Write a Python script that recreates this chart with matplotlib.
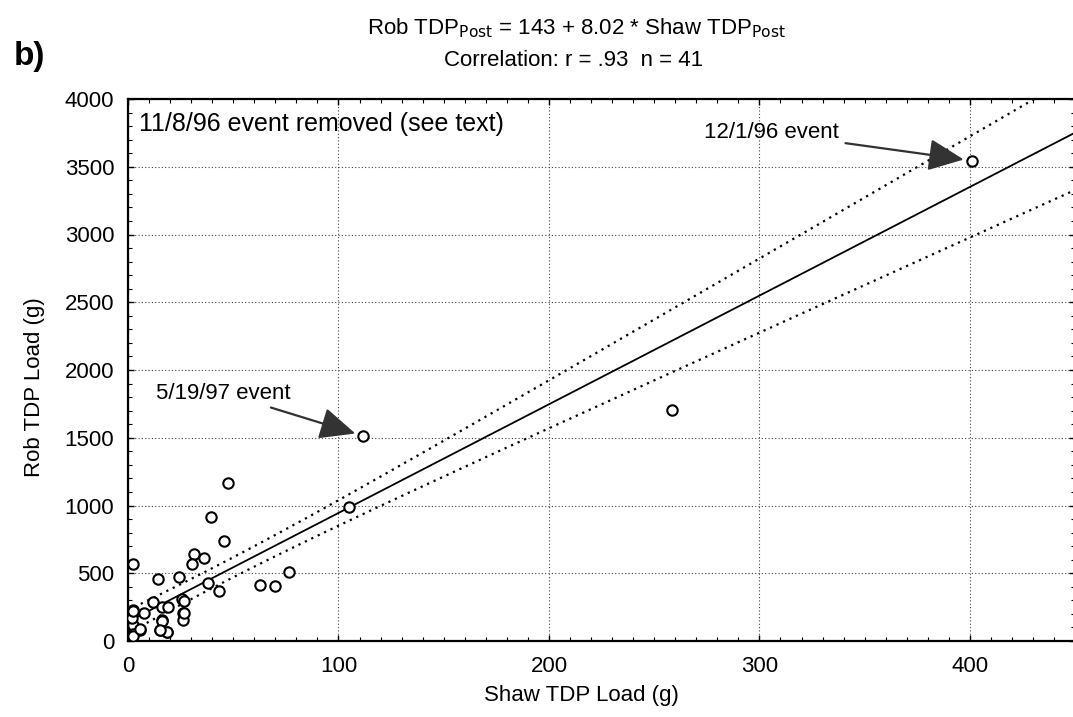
import numpy as np
import matplotlib
matplotlib.use("Agg")
import matplotlib.pyplot as plt
from matplotlib.ticker import MultipleLocator

plt.rcParams['font.family'] = ['Liberation Sans', 'DejaVu Sans']

# Data (Shaw TDP load, Rob TDP load), grams
shaw = [47.3, 39.4, 45.7, 31.4, 36.2, 30.3, 2.2, 14.4, 24.4, 37.8, 43.3, 62.5,
        69.7, 76.3, 12.1, 16.0, 19.2, 25.6, 26.7, 26.3, 26.3, 16.3, 15.2, 18.4,
        2.2, 7.6, 2.5, 5.7, 2.2, 111.8, 258.6, 104.8, 401.0,
        2.0, 2.4, 16.2, 18.6, 5.5, 2.3, 26.4, 15.4]
rob = [1165, 913, 738, 640, 610, 568, 566, 460, 470, 428, 371, 411,
       406, 507, 290, 250, 253, 312, 298, 208, 158, 152, 81, 66,
       226, 204, 121, 84, 55, 1513, 1705, 989, 3545,
       170, 40, 148, 70, 88, 225, 210, 84]

intercept = 143
slope = 8.02
t_crit = 2.0227  # df = 39

x = np.array(shaw, dtype=float)
y = np.array(rob, dtype=float)
n = len(x)
resid = y - (intercept + slope * x)
s = np.sqrt(np.sum(resid**2) / (n - 2))
xbar = x.mean()
sxx = np.sum((x - xbar)**2)

xx = np.linspace(0, 450, 400)
yy = intercept + slope * xx
hw = t_crit * s * np.sqrt(1.0 / n + (xx - xbar)**2 / sxx)

fig = plt.figure(figsize=(10.73, 7.17), dpi=100)
ax = fig.add_axes([128/1073, 1 - 641/717, 1 - 128/1073 + 0.002, (641 - 99)/717])

ax.plot(xx, yy, color='black', lw=1.3, zorder=3)
ax.plot(xx, yy + hw, color='black', lw=1.6, ls=(0, (1, 2.2)), zorder=3)
ax.plot(xx, yy - hw, color='black', lw=1.6, ls=(0, (1, 2.2)), zorder=3)
ax.scatter(x, y, s=56, facecolors='white', edgecolors='black', linewidths=1.5, zorder=4)

ax.set_xlim(0, 450)
ax.set_ylim(0, 4000)
ax.xaxis.set_major_locator(MultipleLocator(100))
ax.xaxis.set_minor_locator(MultipleLocator(10))
ax.yaxis.set_major_locator(MultipleLocator(500))
ax.yaxis.set_minor_locator(MultipleLocator(100))
ax.tick_params(which='both', direction='in', top=True, right=True, labelsize=16)
ax.tick_params(axis='x', pad=11)
ax.tick_params(axis='y', pad=10)
ax.tick_params(which='major', length=4, width=1)
ax.tick_params(which='minor', length=3, width=0.8)
ax.grid(True, which='major', color='#444444', ls=(0, (1, 2)), lw=0.8)
for sp in ax.spines.values():
    sp.set_linewidth(1.6)

ax.set_xlabel('Shaw TDP Load (g)', fontsize=16)
ax.xaxis.set_label_coords((580 - 128) / 945, -(685 - 641) / 542)
ax.set_ylabel('Rob TDP Load (g)', fontsize=16)
ax.yaxis.set_label_coords(-(128 - 45) / 945, (641 - 387) / 542)

ax.text(5.0, 3815, '11/8/96 event removed (see text)',
        fontsize=18, va='center', ha='left')

arrow = dict(arrowstyle='-|>,head_length=1.0,head_width=0.45', color='#333333',
             lw=1.6, mutation_scale=22, shrinkA=3, shrinkB=6)
ax.annotate('12/1/96 event', xy=(401.0, 3545), xytext=(337.6, 3750),
            fontsize=16, ha='right', va='center', arrowprops=arrow)
ax.annotate('5/19/97 event', xy=(111.8, 1513), xytext=(77.5, 1830),
            fontsize=16, ha='right', va='center', arrowprops=arrow)

fig.text(576/1073, 1 - 28/717, 'Rob TDP$_{\\mathrm{Post}}$ = 143 + 8.02 * Shaw TDP$_{\\mathrm{Post}}$',
         ha='center', va='center', fontsize=16)
fig.text(574/1073, 1 - 61/717, 'Correlation: r = .93  n = 41', ha='center', va='center', fontsize=16)
fig.text(14/1073, 1 - 57/717, 'b)', ha='left', va='center', fontsize=24, fontweight='bold')

fig.savefig('out.png', dpi=100)
